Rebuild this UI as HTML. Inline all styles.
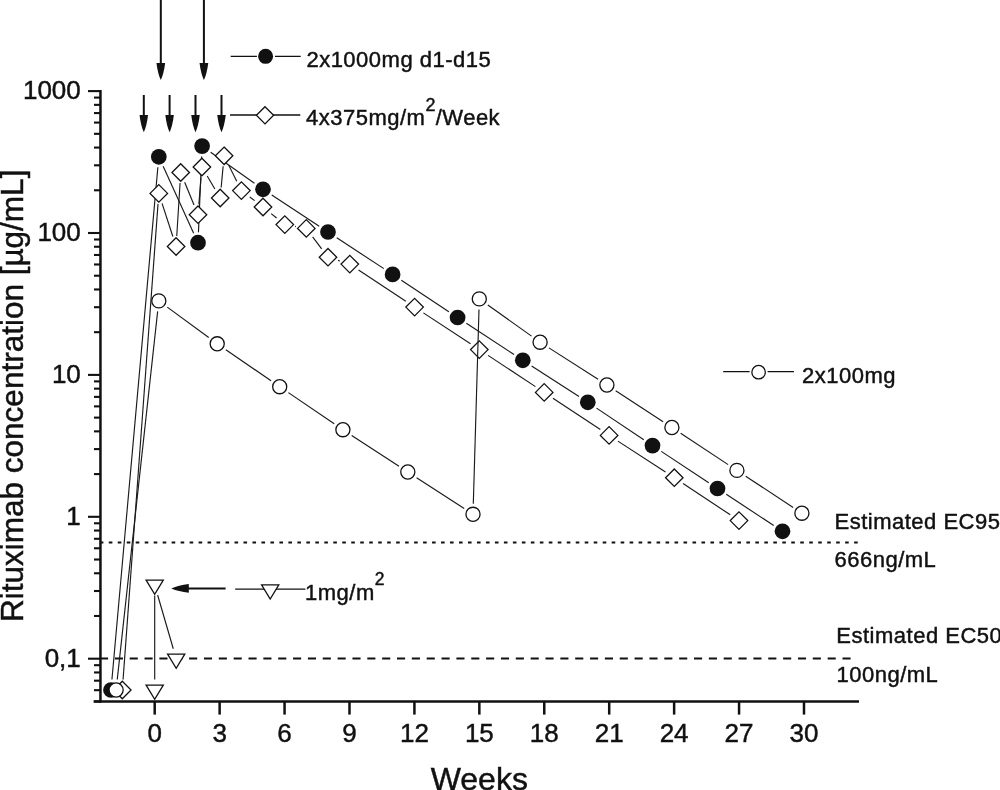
<!DOCTYPE html>
<html><head><meta charset="utf-8"><style>
html,body{margin:0;padding:0;background:#fff;}
svg{display:block;font-family:"Liberation Sans",Arial,sans-serif;}
text{stroke:#111;stroke-width:0.45px;}
</style></head><body>
<svg width="1000" height="790" viewBox="0 0 1000 790">
<rect width="1000" height="790" fill="#fff"/>
<line x1="100.45" y1="542.6" x2="859.0" y2="542.6" stroke="#111" stroke-width="2.0" stroke-dasharray="3.6 5.38" stroke-dashoffset="0.65"/>
<line x1="100.45" y1="658.6" x2="855" y2="658.6" stroke="#111" stroke-width="2.0" stroke-dasharray="8.1 6.75" stroke-dashoffset="0.45"/>
<g stroke="#111" stroke-width="2.5" fill="none"><line x1="100.45" y1="89.90" x2="100.45" y2="702.8" />
<line x1="93.6" y1="701.5" x2="859.0" y2="701.5" />
<line x1="88" y1="658.70" x2="100.45" y2="658.70" stroke-width="2.1"/>
<line x1="94" y1="615.98" x2="100.45" y2="615.98" stroke-width="2.1"/>
<line x1="94" y1="591.00" x2="100.45" y2="591.00" stroke-width="2.1"/>
<line x1="94" y1="573.27" x2="100.45" y2="573.27" stroke-width="2.1"/>
<line x1="94" y1="559.52" x2="100.45" y2="559.52" stroke-width="2.1"/>
<line x1="94" y1="548.28" x2="100.45" y2="548.28" stroke-width="2.1"/>
<line x1="94" y1="538.78" x2="100.45" y2="538.78" stroke-width="2.1"/>
<line x1="94" y1="530.55" x2="100.45" y2="530.55" stroke-width="2.1"/>
<line x1="94" y1="523.29" x2="100.45" y2="523.29" stroke-width="2.1"/>
<line x1="88" y1="516.80" x2="100.45" y2="516.80" stroke-width="2.1"/>
<line x1="94" y1="474.08" x2="100.45" y2="474.08" stroke-width="2.1"/>
<line x1="94" y1="449.10" x2="100.45" y2="449.10" stroke-width="2.1"/>
<line x1="94" y1="431.37" x2="100.45" y2="431.37" stroke-width="2.1"/>
<line x1="94" y1="417.62" x2="100.45" y2="417.62" stroke-width="2.1"/>
<line x1="94" y1="406.38" x2="100.45" y2="406.38" stroke-width="2.1"/>
<line x1="94" y1="396.88" x2="100.45" y2="396.88" stroke-width="2.1"/>
<line x1="94" y1="388.65" x2="100.45" y2="388.65" stroke-width="2.1"/>
<line x1="94" y1="381.39" x2="100.45" y2="381.39" stroke-width="2.1"/>
<line x1="88" y1="374.90" x2="100.45" y2="374.90" stroke-width="2.1"/>
<line x1="94" y1="332.18" x2="100.45" y2="332.18" stroke-width="2.1"/>
<line x1="94" y1="307.20" x2="100.45" y2="307.20" stroke-width="2.1"/>
<line x1="94" y1="289.47" x2="100.45" y2="289.47" stroke-width="2.1"/>
<line x1="94" y1="275.72" x2="100.45" y2="275.72" stroke-width="2.1"/>
<line x1="94" y1="264.48" x2="100.45" y2="264.48" stroke-width="2.1"/>
<line x1="94" y1="254.98" x2="100.45" y2="254.98" stroke-width="2.1"/>
<line x1="94" y1="246.75" x2="100.45" y2="246.75" stroke-width="2.1"/>
<line x1="94" y1="239.49" x2="100.45" y2="239.49" stroke-width="2.1"/>
<line x1="88" y1="233.00" x2="100.45" y2="233.00" stroke-width="2.1"/>
<line x1="94" y1="190.28" x2="100.45" y2="190.28" stroke-width="2.1"/>
<line x1="94" y1="165.30" x2="100.45" y2="165.30" stroke-width="2.1"/>
<line x1="94" y1="147.57" x2="100.45" y2="147.57" stroke-width="2.1"/>
<line x1="94" y1="133.82" x2="100.45" y2="133.82" stroke-width="2.1"/>
<line x1="94" y1="122.58" x2="100.45" y2="122.58" stroke-width="2.1"/>
<line x1="94" y1="113.08" x2="100.45" y2="113.08" stroke-width="2.1"/>
<line x1="94" y1="104.85" x2="100.45" y2="104.85" stroke-width="2.1"/>
<line x1="94" y1="97.59" x2="100.45" y2="97.59" stroke-width="2.1"/>
<line x1="88" y1="91.10" x2="100.45" y2="91.10" stroke-width="2.1"/>
<line x1="94" y1="701.42" x2="100.45" y2="701.42" stroke-width="2.1"/>
<line x1="94" y1="690.18" x2="100.45" y2="690.18" stroke-width="2.1"/>
<line x1="94" y1="680.68" x2="100.45" y2="680.68" stroke-width="2.1"/>
<line x1="94" y1="672.45" x2="100.45" y2="672.45" stroke-width="2.1"/>
<line x1="94" y1="665.19" x2="100.45" y2="665.19" stroke-width="2.1"/>
<line x1="154.70" y1="701.5" x2="154.70" y2="714.6" />
<line x1="219.63" y1="701.5" x2="219.63" y2="714.6" />
<line x1="284.56" y1="701.5" x2="284.56" y2="714.6" />
<line x1="349.49" y1="701.5" x2="349.49" y2="714.6" />
<line x1="414.42" y1="701.5" x2="414.42" y2="714.6" />
<line x1="479.34" y1="701.5" x2="479.34" y2="714.6" />
<line x1="544.27" y1="701.5" x2="544.27" y2="714.6" />
<line x1="609.20" y1="701.5" x2="609.20" y2="714.6" />
<line x1="674.13" y1="701.5" x2="674.13" y2="714.6" />
<line x1="739.06" y1="701.5" x2="739.06" y2="714.6" />
<line x1="803.99" y1="701.5" x2="803.99" y2="714.6" /></g>
<g font-size="26" fill="#111"><text x="80.8" y="99.10" text-anchor="end">1000</text>
<text x="80.8" y="241.00" text-anchor="end">100</text>
<text x="80.8" y="382.90" text-anchor="end">10</text>
<text x="80.8" y="524.80" text-anchor="end">1</text>
<text x="80.8" y="666.70" text-anchor="end">0,1</text>
<text x="154.70" y="742" text-anchor="middle">0</text>
<text x="219.63" y="742" text-anchor="middle">3</text>
<text x="284.56" y="742" text-anchor="middle">6</text>
<text x="349.49" y="742" text-anchor="middle">9</text>
<text x="414.42" y="742" text-anchor="middle">12</text>
<text x="479.34" y="742" text-anchor="middle">15</text>
<text x="544.27" y="742" text-anchor="middle">18</text>
<text x="609.20" y="742" text-anchor="middle">21</text>
<text x="674.13" y="742" text-anchor="middle">24</text>
<text x="739.06" y="742" text-anchor="middle">27</text>
<text x="803.99" y="742" text-anchor="middle">30</text></g>
<text x="479.3" y="790" font-size="32" text-anchor="middle" fill="#111">Weeks</text>
<text transform="translate(22.8 395.8) rotate(-90)" font-size="31.5" text-anchor="middle" fill="#111">Rituximab concentration [µg/mL]</text>
<g stroke="#1a1a1a" stroke-width="1.15" fill="none"><line x1="111.94" y1="679.54" x2="157.86" y2="167.26"/>
<line x1="163.16" y1="166.35" x2="193.64" y2="233.15"/>
<line x1="198.45" y1="232.21" x2="201.65" y2="156.59"/>
<line x1="210.66" y1="152.18" x2="254.44" y2="183.22"/>
<line x1="271.78" y1="195.07" x2="319.22" y2="226.23"/>
<line x1="336.78" y1="237.76" x2="383.82" y2="268.64"/>
<line x1="401.35" y1="280.20" x2="448.85" y2="311.70"/>
<line x1="466.38" y1="323.26" x2="514.02" y2="354.54"/>
<line x1="531.62" y1="366.00" x2="578.98" y2="396.60"/>
<line x1="596.53" y1="408.14" x2="643.77" y2="439.76"/>
<line x1="661.26" y1="451.38" x2="708.74" y2="482.72"/>
<line x1="726.27" y1="494.27" x2="773.73" y2="525.53"/></g>
<circle cx="111" cy="690" r="7.85" fill="#111"/><circle cx="158.8" cy="156.8" r="7.85" fill="#111"/><circle cx="198" cy="242.7" r="7.85" fill="#111"/><circle cx="202.1" cy="146.1" r="7.85" fill="#111"/><circle cx="263.0" cy="189.3" r="7.85" fill="#111"/><circle cx="328.0" cy="232.0" r="7.85" fill="#111"/><circle cx="392.6" cy="274.4" r="7.85" fill="#111"/><circle cx="457.6" cy="317.5" r="7.85" fill="#111"/><circle cx="522.8" cy="360.3" r="7.85" fill="#111"/><circle cx="587.8" cy="402.3" r="7.85" fill="#111"/><circle cx="652.5" cy="445.6" r="7.85" fill="#111"/><circle cx="717.5" cy="488.5" r="7.85" fill="#111"/><circle cx="782.5" cy="531.3" r="7.85" fill="#111"/>
<g stroke="#1a1a1a" stroke-width="1.15" fill="none"><line x1="123.07" y1="679.53" x2="158.03" y2="203.87"/>
<line x1="162.05" y1="203.38" x2="172.85" y2="236.52"/>
<line x1="176.75" y1="236.02" x2="180.05" y2="182.98"/>
<line x1="184.68" y1="182.22" x2="194.02" y2="204.98"/>
<line x1="198.86" y1="204.23" x2="201.04" y2="177.47"/>
<line x1="207.24" y1="176.04" x2="214.86" y2="188.96"/>
<line x1="221.17" y1="187.54" x2="223.13" y2="166.26"/>
<line x1="228.77" y1="165.20" x2="236.73" y2="181.20"/>
<line x1="249.76" y1="196.95" x2="254.64" y2="200.65"/>
<line x1="271.17" y1="213.60" x2="276.63" y2="218.00"/>
<line x1="295.14" y1="226.43" x2="295.96" y2="226.57"/>
<line x1="312.62" y1="236.79" x2="321.68" y2="248.81"/>
<line x1="338.01" y1="260.37" x2="339.79" y2="260.93"/>
<line x1="358.55" y1="269.91" x2="405.85" y2="301.29"/>
<line x1="423.38" y1="312.86" x2="470.52" y2="343.84"/>
<line x1="488.07" y1="355.38" x2="535.43" y2="386.62"/>
<line x1="552.95" y1="398.20" x2="600.35" y2="429.60"/>
<line x1="617.91" y1="441.11" x2="665.49" y2="471.99"/>
<line x1="683.05" y1="483.50" x2="730.25" y2="514.80"/></g>
<path d="M122.3 681.25L131.05 690L122.3 698.75L113.55 690Z" fill="#fff" stroke="#111" stroke-width="1.3"/><path d="M158.8 184.65L167.55 193.4L158.8 202.15L150.05 193.4Z" fill="#fff" stroke="#111" stroke-width="1.3"/><path d="M176.1 237.75L184.85 246.5L176.1 255.25L167.35 246.5Z" fill="#fff" stroke="#111" stroke-width="1.3"/><path d="M180.7 163.75L189.45 172.5L180.7 181.25L171.95 172.5Z" fill="#fff" stroke="#111" stroke-width="1.3"/><path d="M198 205.95L206.75 214.7L198 223.45L189.25 214.7Z" fill="#fff" stroke="#111" stroke-width="1.3"/><path d="M201.9 158.25L210.65 167L201.9 175.75L193.15 167Z" fill="#fff" stroke="#111" stroke-width="1.3"/><path d="M220.2 189.25L228.95 198L220.2 206.75L211.45 198Z" fill="#fff" stroke="#111" stroke-width="1.3"/><path d="M224.1 147.05L232.85 155.8L224.1 164.55L215.35 155.8Z" fill="#fff" stroke="#111" stroke-width="1.3"/><path d="M241.4 181.85L250.15 190.6L241.4 199.35L232.65 190.6Z" fill="#fff" stroke="#111" stroke-width="1.3"/><path d="M263.0 198.25L271.75 207.0L263.0 215.75L254.25 207.0Z" fill="#fff" stroke="#111" stroke-width="1.3"/><path d="M284.8 215.85L293.55 224.6L284.8 233.35L276.05 224.6Z" fill="#fff" stroke="#111" stroke-width="1.3"/><path d="M306.3 219.65L315.05 228.4L306.3 237.15L297.55 228.4Z" fill="#fff" stroke="#111" stroke-width="1.3"/><path d="M328.0 248.45L336.75 257.2L328.0 265.95L319.25 257.2Z" fill="#fff" stroke="#111" stroke-width="1.3"/><path d="M349.8 255.35000000000002L358.55 264.1L349.8 272.85L341.05 264.1Z" fill="#fff" stroke="#111" stroke-width="1.3"/><path d="M414.6 298.35L423.35 307.1L414.6 315.85L405.85 307.1Z" fill="#fff" stroke="#111" stroke-width="1.3"/><path d="M479.3 340.85L488.05 349.6L479.3 358.35L470.55 349.6Z" fill="#fff" stroke="#111" stroke-width="1.3"/><path d="M544.2 383.65L552.95 392.4L544.2 401.15L535.45 392.4Z" fill="#fff" stroke="#111" stroke-width="1.3"/><path d="M609.1 426.65L617.85 435.4L609.1 444.15L600.35 435.4Z" fill="#fff" stroke="#111" stroke-width="1.3"/><path d="M674.3 468.95L683.05 477.7L674.3 486.45L665.55 477.7Z" fill="#fff" stroke="#111" stroke-width="1.3"/><path d="M739.0 511.85L747.75 520.6L739.0 529.35L730.25 520.6Z" fill="#fff" stroke="#111" stroke-width="1.3"/>
<g stroke="#1a1a1a" stroke-width="1.15" fill="none"><line x1="117.25" y1="679.56" x2="157.65" y2="311.34"/>
<line x1="167.26" y1="307.12" x2="208.74" y2="337.58"/>
<line x1="225.86" y1="349.74" x2="271.04" y2="380.76"/>
<line x1="288.38" y1="392.61" x2="334.22" y2="423.79"/>
<line x1="351.70" y1="435.43" x2="399.00" y2="466.27"/>
<line x1="416.61" y1="477.71" x2="464.19" y2="508.59"/>
<line x1="473.31" y1="503.80" x2="478.99" y2="309.40"/>
<line x1="487.85" y1="304.99" x2="531.55" y2="336.11"/>
<line x1="548.94" y1="347.86" x2="598.06" y2="379.34"/>
<line x1="615.69" y1="390.75" x2="663.11" y2="421.75"/>
<line x1="680.66" y1="433.28" x2="728.14" y2="464.62"/>
<line x1="745.67" y1="476.17" x2="793.13" y2="507.43"/></g>
<circle cx="116.1" cy="690" r="7.05" fill="#fff" stroke="#111" stroke-width="1.3"/><circle cx="158.8" cy="300.9" r="7.05" fill="#fff" stroke="#111" stroke-width="1.3"/><circle cx="217.2" cy="343.8" r="7.05" fill="#fff" stroke="#111" stroke-width="1.3"/><circle cx="279.7" cy="386.7" r="7.05" fill="#fff" stroke="#111" stroke-width="1.3"/><circle cx="342.9" cy="429.7" r="7.05" fill="#fff" stroke="#111" stroke-width="1.3"/><circle cx="407.8" cy="472.0" r="7.05" fill="#fff" stroke="#111" stroke-width="1.3"/><circle cx="473.0" cy="514.3" r="7.05" fill="#fff" stroke="#111" stroke-width="1.3"/><circle cx="479.3" cy="298.9" r="7.05" fill="#fff" stroke="#111" stroke-width="1.3"/><circle cx="540.1" cy="342.2" r="7.05" fill="#fff" stroke="#111" stroke-width="1.3"/><circle cx="606.9" cy="385.0" r="7.05" fill="#fff" stroke="#111" stroke-width="1.3"/><circle cx="671.9" cy="427.5" r="7.05" fill="#fff" stroke="#111" stroke-width="1.3"/><circle cx="736.9" cy="470.4" r="7.05" fill="#fff" stroke="#111" stroke-width="1.3"/><circle cx="801.9" cy="513.2" r="7.05" fill="#fff" stroke="#111" stroke-width="1.3"/>
<g stroke="#1a1a1a" stroke-width="1.15" fill="none"><line x1="154.70" y1="679.40" x2="154.70" y2="595.40"/>
<line x1="157.63" y1="594.98" x2="173.27" y2="648.72"/></g>
<path d="M146.10 685.17L163.30 685.17L154.70 699.37Z" fill="#fff" stroke="#111" stroke-width="1.3"/><path d="M146.10 580.17L163.30 580.17L154.70 594.37Z" fill="#fff" stroke="#111" stroke-width="1.3"/><path d="M167.60 654.07L184.80 654.07L176.20 668.27Z" fill="#fff" stroke="#111" stroke-width="1.3"/>
<line x1="160.8" y1="-1" x2="160.8" y2="63.9" stroke="#111" stroke-width="2.0"/><path d="M156.45000000000002 62.9L165.15 62.9Q163.84 73.50 160.8 80.0Q157.76 73.50 156.45000000000002 62.9Z" fill="#111"/>
<line x1="203.9" y1="-1" x2="203.9" y2="63.9" stroke="#111" stroke-width="2.0"/><path d="M199.55 62.9L208.25 62.9Q206.94 73.50 203.9 80.0Q200.86 73.50 199.55 62.9Z" fill="#111"/>
<line x1="143.8" y1="95" x2="143.8" y2="116" stroke="#111" stroke-width="2.0"/><path d="M139.55 115L148.05 115Q146.78 125.73 143.8 132.3Q140.83 125.73 139.55 115Z" fill="#111"/>
<line x1="169.6" y1="95" x2="169.6" y2="116" stroke="#111" stroke-width="2.0"/><path d="M165.35 115L173.85 115Q172.57 125.73 169.6 132.3Q166.62 125.73 165.35 115Z" fill="#111"/>
<line x1="195.5" y1="95" x2="195.5" y2="116" stroke="#111" stroke-width="2.0"/><path d="M191.25 115L199.75 115Q198.47 125.73 195.5 132.3Q192.53 125.73 191.25 115Z" fill="#111"/>
<line x1="221.5" y1="95" x2="221.5" y2="116" stroke="#111" stroke-width="2.0"/><path d="M217.25 115L225.75 115Q224.47 125.73 221.5 132.3Q218.53 125.73 217.25 115Z" fill="#111"/>
<line x1="187.5" y1="588.4" x2="225.6" y2="588.4" stroke="#111" stroke-width="2.0"/>
<path d="M188.8 584.1L188.8 592.8Q178.4 591.5 171.3 588.45Q178.4 585.4 188.8 584.1Z" fill="#111"/>
<path d="M230.7 56.4H256.9M275 56.4H300.7" stroke="#111" stroke-width="1.3"/>
<circle cx="265.6" cy="56.35" r="7.5" fill="#111"/>
<line x1="230" y1="115" x2="300.3" y2="115" stroke="#111" stroke-width="1.3"/>
<path d="M265 106.7L273.6 115.3L265 123.89999999999999L256.4 115.3Z" fill="#fff" stroke="#111" stroke-width="1.3"/>
<path d="M723.2 371.6H749.6M767.6 371.6H794" stroke="#111" stroke-width="1.3"/>
<circle cx="758.6" cy="372.2" r="6.75" fill="#fff" stroke="#111" stroke-width="1.3"/>
<line x1="235.2" y1="589.2" x2="305.4" y2="589.2" stroke="#111" stroke-width="1.3"/>
<path d="M261.60 584.87L278.80 584.87L270.20 599.07Z" fill="#fff" stroke="#111" stroke-width="1.3"/>
<g font-size="22" fill="#111" letter-spacing="0.5"><text x="306.4" y="66.9">2x1000mg d1-d15</text>
<text x="306" y="125.4">4x375mg/m<tspan font-size="18" dy="-14.9">2</tspan><tspan dy="14.9" dx="-0.3">/</tspan><tspan>Week</tspan></text>
<text x="802" y="382.7">2x100mg</text>
<text x="305" y="600">1mg/m<tspan font-size="17.5" dy="-15.4">2</tspan></text>
<text x="834.5" y="529">Estimated EC95</text>
<text x="834.5" y="567">666ng/mL</text>
<text x="836.3" y="643.3">Estimated EC50</text>
<text x="836.5" y="681.8">100ng/mL</text></g>
</svg>
</body></html>
